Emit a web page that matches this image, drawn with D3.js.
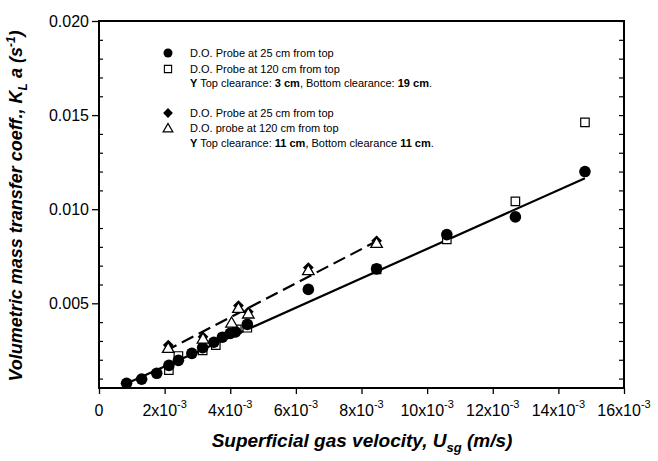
<!DOCTYPE html>
<html>
<head>
<meta charset="utf-8">
<script src="https://cdn.jsdelivr.net/npm/d3@7"></script>
<style>
  body { margin: 0; background: #fff; }
  text { font-family: "Liberation Sans", Arial, Helvetica, sans-serif; fill: #000; }
</style>
</head>
<body>
<svg id="chart" width="658" height="461"></svg>
<script>
// Superficial gas velocity Usg (m/s) and volumetric mass transfer coefficient KLa (1/s)

// Y top clearance 3 cm, bottom clearance 19 cm — probe at 25 cm from top
const circleX = [0.00084, 0.00130, 0.00176, 0.00213, 0.00242, 0.00283, 0.00316, 0.00350, 0.00376, 0.00400, 0.00416, 0.00452, 0.00638, 0.00846, 0.01060, 0.01269, 0.01481];
const circleY = [0.00075, 0.00097, 0.00128, 0.00170, 0.00197, 0.00234, 0.00264, 0.00293, 0.00320, 0.00340, 0.00348, 0.00388, 0.00574, 0.00683, 0.00865, 0.00959, 0.01200];
// same clearance — probe at 120 cm from top
const squareX = [0.00213, 0.00242, 0.00316, 0.00356, 0.00420, 0.00452, 0.00846, 0.01060, 0.01269, 0.01481];
const squareY = [0.00145, 0.00220, 0.00250, 0.00278, 0.00362, 0.00370, 0.00680, 0.00840, 0.01042, 0.01461];
// Y top clearance 11 cm, bottom clearance 11 cm — probe at 25 cm from top
const diamondX = [0.00211, 0.00317, 0.00425, 0.00455, 0.00638, 0.00846];
const diamondY = [0.00278, 0.00322, 0.00488, 0.00455, 0.00690, 0.00832];
// same clearance — probe at 120 cm from top
const triangleX = [0.00211, 0.00317, 0.00404, 0.00425, 0.00455, 0.00638, 0.00846];
const triangleY = [0.00262, 0.00312, 0.00397, 0.00475, 0.00445, 0.00675, 0.00820];

// linear fit lines (end points)
const fitSolidX = [0.00074, 0.01481];
const fitSolidY = [0.00066, 0.01165];
const fitDashX = [0.00201, 0.00856];
const fitDashY = [0.00245, 0.00839];

// axis ticks
const xTicks = [0, 0.002, 0.004, 0.006, 0.008, 0.010, 0.012, 0.014, 0.016];
const xTickLabels = ["0", "2", "4", "6", "8", "10", "12", "14", "16"];
const yTicks = [0.005, 0.010, 0.015, 0.020];
const yTickLabels = ["0.005", "0.010", "0.015", "0.020"];
const yMinor = [0.001, 0.002, 0.003, 0.004, 0.006, 0.007, 0.008, 0.009, 0.011, 0.012, 0.013, 0.014, 0.016, 0.017, 0.018, 0.019];

const svg = d3.select("#chart");
const L = 99, R = 624, T = 21, B = 388;

const x = d3.scaleLinear().domain([0, 0.016]).range([L, R]);
const y = d3.scaleLinear().domain([0.0005, 0.020]).range([B, T]);

// ---- axes ----
const gx = svg.append("g").attr("transform", `translate(0,${B})`)
  .call(d3.axisBottom(x).tickValues(xTicks).tickSize(6).tickSizeOuter(0).tickFormat(() => ""));
gx.selectAll(".tick line").attr("stroke", "#000").attr("stroke-width", 1.3);
gx.select(".domain").remove();
gx.selectAll(".tick text").remove();
// x tick labels with power-of-ten notation
const xl = svg.append("g");
xTicks.forEach((v, i) => {
  const t = xl.append("text").attr("x", x(v)).attr("y", B + 28).attr("text-anchor", "middle")
    .attr("font-size", 16);
  if (i === 0) { t.text(xTickLabels[i]); return; }
  t.append("tspan").text(xTickLabels[i] + "x10");
  t.append("tspan").attr("dy", -8).attr("font-size", 11).text("-3");
});

const gy = svg.append("g").attr("transform", `translate(${L},0)`)
  .call(d3.axisLeft(y).tickValues(yTicks).tickSize(7).tickSizeOuter(0)
    .tickFormat((d, i) => yTickLabels[i]));
gy.select(".domain").remove();
gy.selectAll(".tick line").attr("stroke", "#000").attr("stroke-width", 1.3);
gy.selectAll(".tick text").attr("font-size", 16).attr("x", -10)
  .style("font-family", '"Liberation Sans", Arial, sans-serif');

// minor ticks pointing inward on the left axis
const gyMinor = svg.append("g").attr("transform", `translate(${L},0)`)
  .call(d3.axisRight(y).tickValues(yMinor).tickSize(4).tickSizeOuter(0).tickFormat(() => ""));
gyMinor.select(".domain").remove();
gyMinor.selectAll(".tick line").attr("stroke", "#000").attr("stroke-width", 1.2);

// right axis: major and minor ticks pointing inward
const gr = svg.append("g").attr("transform", `translate(${R},0)`)
  .call(d3.axisLeft(y).tickValues(yTicks.concat(yMinor)).tickSize(5).tickSizeOuter(0).tickFormat(() => ""));
gr.select(".domain").remove();
gr.selectAll(".tick line").attr("stroke", "#000").attr("stroke-width", 1.2);

// frame
svg.append("rect").attr("x", L).attr("y", T).attr("width", R - L).attr("height", B - T)
  .attr("fill", "none").attr("stroke", "#000").attr("stroke-width", 2);

// axis titles
const xt = svg.append("text").attr("x", 362).attr("y", 447).attr("text-anchor", "middle")
  .attr("font-size", 19).attr("font-weight", "bold").attr("font-style", "italic");
xt.append("tspan").text("Superficial gas velocity, U");
xt.append("tspan").attr("dy", 5).attr("font-size", 13).text("sg");
xt.append("tspan").attr("dy", -5).text(" (m/s)");

const yt = svg.append("text").attr("transform", "translate(22,206) rotate(-90)").attr("text-anchor", "middle")
  .attr("font-size", 18).attr("font-weight", "bold").attr("font-style", "italic");
yt.append("tspan").text("Volumetric mass transfer coeff., K");
yt.append("tspan").attr("dy", 5).attr("font-size", 12).text("L");
yt.append("tspan").attr("dy", -5).text(" a (s");
yt.append("tspan").attr("dy", -7).attr("font-size", 12).text("-1");
yt.append("tspan").attr("dy", 7).text(")");

// ---- fit lines ----
const line = d3.line().x(d => x(d[0])).y(d => y(d[1]));
svg.append("path").datum(d3.zip(fitSolidX, fitSolidY)).attr("d", line)
  .attr("fill", "none").attr("stroke", "#000").attr("stroke-width", 2.2);
svg.append("path").datum(d3.zip(fitDashX, fitDashY)).attr("d", line)
  .attr("fill", "none").attr("stroke", "#000").attr("stroke-width", 2.2).attr("stroke-dasharray", "13,6");

// ---- markers ----
const sym = (type, size) => d3.symbol().type(type).size(size)();
const diamond = size => `rotate(45) ` ;
const plot = svg.append("g");
plot.selectAll(".sq").data(d3.zip(squareX, squareY)).join("path")
  .attr("transform", d => `translate(${x(d[0])},${y(d[1])})`)
  .attr("d", sym(d3.symbolSquare, 72)).attr("fill", "#fff").attr("stroke", "#000").attr("stroke-width", 1.2);
plot.selectAll(".ci").data(d3.zip(circleX, circleY)).join("circle")
  .attr("cx", d => x(d[0])).attr("cy", d => y(d[1])).attr("r", 5.8).attr("fill", "#000");
plot.selectAll(".di").data(d3.zip(diamondX, diamondY)).join("path")
  .attr("transform", d => `translate(${x(d[0])},${y(d[1])}) rotate(45)`)
  .attr("d", sym(d3.symbolSquare, 58)).attr("fill", "#000");
plot.selectAll(".tr").data(d3.zip(triangleX, triangleY)).join("path")
  .attr("transform", d => `translate(${x(d[0])},${y(d[1]) + 1})`)
  .attr("d", sym(d3.symbolTriangle, 58)).attr("fill", "#fff").attr("stroke", "#000").attr("stroke-width", 1.3);

// ---- legend ----
const lg = svg.append("g").attr("font-size", 11);
const lx = 168, tx = 190;
const rows = [53, 69, 83, 113, 128, 143];
lg.append("circle").attr("cx", lx).attr("cy", rows[0]).attr("r", 4.5).attr("fill", "#000");
lg.append("path").attr("transform", `translate(${lx},${rows[1]})`).attr("d", sym(d3.symbolSquare, 52))
  .attr("fill", "#fff").attr("stroke", "#000").attr("stroke-width", 1.1);
lg.append("path").attr("transform", `translate(${lx},${rows[3]}) rotate(45)`).attr("d", sym(d3.symbolSquare, 48))
  .attr("fill", "#000");
lg.append("path").attr("transform", `translate(${lx},${rows[4] + 1})`).attr("d", sym(d3.symbolTriangle, 40))
  .attr("fill", "#fff").attr("stroke", "#000").attr("stroke-width", 1.3);

const legendText = [
  [["D.O. Probe at 25 cm from top", false]],
  [["D.O. Probe at 120 cm from top", false]],
  [["Y", true], [" Top clearance: ", false], ["3 cm", true], [", Bottom clearance: ", false], ["19 cm", true], [".", false]],
  [["D.O. Probe at 25 cm from top", false]],
  [["D.O. probe at 120 cm from top", false]],
  [["Y", true], [" Top clearance: ", false], ["11 cm", true], [", Bottom clearance ", false], ["11 cm", true], [".", false]]
];
legendText.forEach((parts, i) => {
  const t = lg.append("text").attr("x", tx).attr("y", rows[i] + 4).attr("xml:space", "preserve");
  parts.forEach(p => t.append("tspan").attr("font-weight", p[1] ? "bold" : "normal").text(p[0]));
});
</script>
</body>
</html>
